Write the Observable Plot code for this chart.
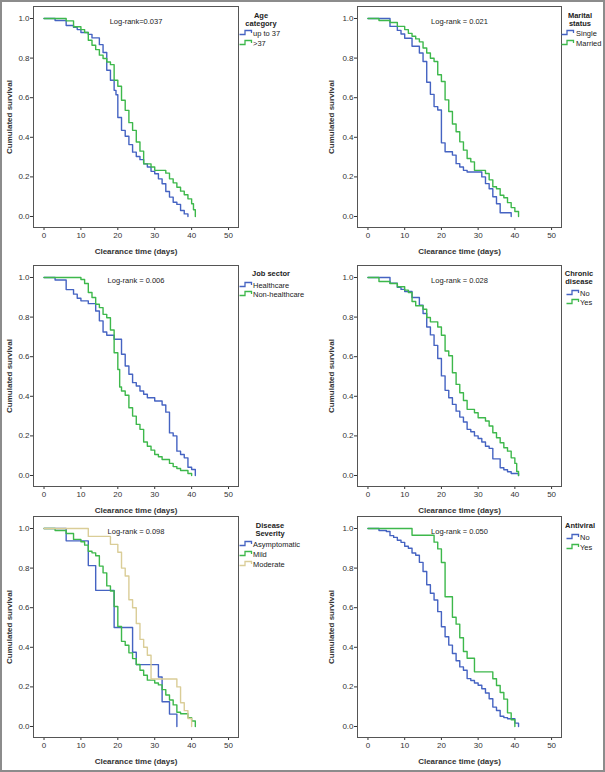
<!DOCTYPE html>
<html>
<head>
<meta charset="utf-8">
<script src="https://cdn.jsdelivr.net/npm/d3@7"></script>
<script src="https://cdn.jsdelivr.net/npm/@observablehq/plot@0.6"></script>
<style>
  html, body { margin: 0; padding: 0; background: #fff; }
  #page { position: relative; width: 605px; height: 772px; overflow: hidden; background: #fff;
          font-family: "Liberation Sans", Arial, sans-serif; color: #222; }
  #border { position: absolute; left: 0; top: 0; width: 605px; height: 772px; box-sizing: border-box;
            border: 2px solid #8c8c8c; pointer-events: none; }
  .col { position: absolute; top: 0; height: 772px; }
  .col svg { position: absolute; left: 0; overflow: visible; }
  .lg { position: absolute; font-size: 7.5px; line-height: 9px; white-space: nowrap; color: #222; }
  .lgt { font-weight: bold; transform: translateX(-50%); text-align: center; }
  .sw { position: absolute; }
  [aria-label="x-axis label"], [aria-label="y-axis label"] { font-weight: bold; }
</style>
</head>
<body>
<div id="page"><div id="colL" class="col" style="left:0;width:300px"></div><div id="colR" class="col" style="left:300px;width:305px"></div><div id="border"></div></div>
<script>
// ---------- axis ticks & labels ----------
const xTicks = [0, 10, 20, 30, 40, 50];
const yTicks = [0, 0.2, 0.4, 0.6, 0.8, 1.0];
const xLabel = "Clearance time (days)";
const yLabel = "Cumulated survival";

// ---------- Panel 1: Age category ----------
const ageTitle = ["Age", "category"];
const ageLogrank = "Log-rank=0.037";
const ageNames = ["up to 37", ">37"];
const ageUpDays = [0,3,6,8,9,10,12,13,15,16,17,18,19,19.5,20,21,22,23,24,25,26,27,28,29,30,31,32,33,34,35,36,37,38,39];
const ageUpSurv = [1,0.99,0.965,0.955,0.944,0.929,0.92,0.902,0.868,0.828,0.739,0.688,0.637,0.615,0.5,0.435,0.405,0.363,0.325,0.303,0.287,0.266,0.25,0.228,0.216,0.19,0.165,0.126,0.098,0.072,0.061,0.03,0.013,0];
const ageOverDays = [0,6,8,10,11,12,13,14,15,16,17,18,19,20,21,22,23,24,25,26,27,29,30,33,34,35,36,37,38,39,40,40.5,41];
const ageOverSurv = [1,0.988,0.958,0.944,0.929,0.89,0.865,0.843,0.815,0.798,0.78,0.767,0.688,0.658,0.587,0.536,0.474,0.435,0.376,0.33,0.266,0.25,0.233,0.219,0.19,0.17,0.148,0.128,0.11,0.089,0.064,0.034,0];

// ---------- Panel 2: Marital status ----------
const marTitle = ["Marital", "status"];
const marLogrank = "Log-rank = 0.021";
const marNames = ["Single", "Married"];
const marSingleDays = [0,6,8,9,10,12,14,15,16,17,18,19,20,21,23,24,25,26,27,31,32,33,34,35,36,39];
const marSingleSurv = [1,0.96,0.94,0.922,0.9,0.86,0.826,0.783,0.678,0.617,0.555,0.538,0.372,0.327,0.31,0.267,0.25,0.233,0.225,0.2,0.166,0.14,0.1,0.064,0.019,0];
const marMarriedDays = [0,3,6,8,10,11,12,13,14,15,16,17,18,19,20,21,22,23,24,25,26,27,28,29,32,33,34,35,36,37,38,39,40,41];
const marMarriedSurv = [1,0.99,0.98,0.96,0.944,0.925,0.91,0.897,0.882,0.851,0.826,0.799,0.783,0.716,0.682,0.589,0.53,0.467,0.428,0.377,0.335,0.293,0.276,0.233,0.217,0.185,0.15,0.14,0.107,0.095,0.07,0.045,0.025,0];

// ---------- Panel 3: Job sector ----------
const jobTitle = ["Job sector"];
const jobLogrank = "Log-rank = 0.006";
const jobNames = ["Healthcare", "Non-healthcare"];
const jobHcDays = [0,3,6,8,9,10,12,14,15,16,17,19,21,22,23,24,25,26,27,28,30,32,33,34,35,36,37,38,39,40,41];
const jobHcSurv = [1,0.987,0.939,0.916,0.895,0.882,0.868,0.831,0.781,0.725,0.708,0.688,0.612,0.553,0.511,0.469,0.452,0.427,0.41,0.393,0.376,0.356,0.32,0.215,0.2,0.123,0.106,0.089,0.042,0.03,0];
const jobNonDays = [0,10,11,12,13,14,15,16,17,18,19,20,20.5,21,22,23,24,25,26,27,28,29,30,31,32,34,35,36,37,39,40];
const jobNonSurv = [1,0.99,0.97,0.924,0.899,0.865,0.848,0.814,0.797,0.735,0.62,0.535,0.447,0.427,0.405,0.342,0.3,0.258,0.233,0.169,0.148,0.128,0.106,0.095,0.081,0.061,0.045,0.035,0.025,0.01,0];

// ---------- Panel 4: Chronic disease ----------
const chrTitle = ["Chronic", "disease"];
const chrLogrank = "Log-rank = 0.028";
const chrNames = ["No", "Yes"];
const chrNoDays = [0,6,8,9,10,12,14,15,16,17,18,19,20,21,22,23,24,25,26,27,28,29,30,31,32,33,34,36,37,38,39,41];
const chrNoSurv = [1,0.971,0.95,0.94,0.929,0.899,0.86,0.818,0.75,0.71,0.657,0.591,0.503,0.43,0.393,0.359,0.325,0.295,0.27,0.233,0.221,0.2,0.187,0.169,0.148,0.137,0.084,0.039,0.029,0.019,0.01,0];
const chrYesDays = [0,3,6,8,10,11,12,13,15,16,17,19,20,21,22,23,24,25,26,27,29,30,32,33,34,35,36,37,38,39,40,40.5,41];
const chrYesSurv = [1,0.98,0.97,0.953,0.936,0.924,0.879,0.857,0.84,0.798,0.776,0.75,0.708,0.629,0.605,0.519,0.46,0.418,0.379,0.334,0.317,0.292,0.275,0.25,0.216,0.191,0.165,0.14,0.123,0.089,0.061,0.02,0];

// ---------- Panel 5: Disease severity ----------
const sevTitle = ["Disease", "Severity"];
const sevLogrank = "Log-rank = 0.098";
const sevNames = ["Asymptomatic", "Mild", "Moderate"];
const sevAsymDays = [0,6,12,14,19,24,25,31,32,34,36];
const sevAsymSurv = [1,0.9375,0.8125,0.6875,0.5,0.375,0.3125,0.25,0.125,0.0625,0];
const sevMildDays = [0,3,6,8,10,11,12,13,14,15,16,17,18,19,20,21,22,23,24,25,26,27,28,30,31,32,33,34,35,36,37,39,40,41];
const sevMildSurv = [1,0.99,0.975,0.945,0.933,0.916,0.885,0.877,0.862,0.81,0.776,0.71,0.684,0.606,0.505,0.43,0.41,0.372,0.343,0.313,0.284,0.259,0.234,0.22,0.21,0.186,0.159,0.134,0.109,0.072,0.064,0.045,0.028,0];
const sevModDays = [0,12,18,20,21,22,23,24,25,26,27,28,29,36,37,38,39,40];
const sevModSurv = [1,0.96,0.92,0.88,0.8,0.76,0.64,0.6,0.52,0.44,0.4,0.36,0.24,0.2,0.12,0.08,0.04,0];

// ---------- Panel 6: Antiviral ----------
const antTitle = ["Antiviral"];
const antLogrank = "Log-rank = 0.050";
const antNames = ["No", "Yes"];
const antNoDays = [0,3,5,6,7,8,9,10,11,12,13,14,15,16,17,18,19,20,21,22,23,24,25,26,27,28,29,30,31,32,33,34,35,36,37,38,40,41];
const antNoSurv = [1,0.99,0.985,0.964,0.955,0.941,0.93,0.91,0.9,0.876,0.865,0.829,0.783,0.716,0.673,0.639,0.58,0.504,0.453,0.411,0.369,0.332,0.301,0.284,0.242,0.232,0.22,0.208,0.191,0.169,0.14,0.098,0.081,0.052,0.045,0.039,0.017,0];
const antYesDays = [0,12,18,19,20,21,23,24,25,26,27,29,34,35,36,37,38,39,40];
const antYesSurv = [1,0.966,0.931,0.897,0.828,0.655,0.552,0.517,0.448,0.379,0.345,0.276,0.241,0.207,0.172,0.138,0.069,0.034,0];

// ---------- colours ----------
const BLUE = "#4563c2", GREEN = "#3db84b", TAN = "#dacd97";

const panels = [
  {col: "L", row: 0, title: ageTitle, logrank: ageLogrank, names: ageNames, colors: [BLUE, GREEN],
   series: [[ageUpDays, ageUpSurv], [ageOverDays, ageOverSurv]],
   lg: {cx: 261, sw: 239, tx: 253, ty: [15, 23], ey: [33, 43]}},
  {col: "R", row: 0, title: marTitle, logrank: marLogrank, names: marNames, colors: [BLUE, GREEN],
   series: [[marSingleDays, marSingleSurv], [marMarriedDays, marMarriedSurv]],
   lg: {cx: 580, sw: 561, tx: 576, ty: [15, 23], ey: [33, 43]}},
  {col: "L", row: 1, title: jobTitle, logrank: jobLogrank, names: jobNames, colors: [BLUE, GREEN],
   series: [[jobHcDays, jobHcSurv], [jobNonDays, jobNonSurv]],
   lg: {cx: 271, sw: 239, tx: 253, ty: [273], ey: [285, 294]}},
  {col: "R", row: 1, title: chrTitle, logrank: chrLogrank, names: chrNames, colors: [BLUE, GREEN],
   series: [[chrNoDays, chrNoSurv], [chrYesDays, chrYesSurv]],
   lg: {cx: 579, sw: 566, tx: 580, ty: [273, 281], ey: [293, 302]}},
  {col: "L", row: 2, title: sevTitle, logrank: sevLogrank, names: sevNames, colors: [BLUE, GREEN, TAN],
   series: [[sevAsymDays, sevAsymSurv], [sevMildDays, sevMildSurv], [sevModDays, sevModSurv]],
   lg: {cx: 270, sw: 239, tx: 253, ty: [525, 533], ey: [544, 554, 564]}},
  {col: "R", row: 2, title: antTitle, logrank: antLogrank, names: antNames, colors: [BLUE, GREEN],
   series: [[antNoDays, antNoSurv], [antYesDays, antYesSurv]],
   lg: {cx: 580, sw: 566, tx: 580, ty: [525], ey: [537, 547]}}
];

const rowTops = [0, 259, 510];
const colGeom = {
  L: {width: 300, marginLeft: 33, marginRight: 62, yLabelOffset: 27, xOff: 0, el: "colL"},
  R: {width: 305, marginLeft: 57, marginRight: 44, yLabelOffset: 29, xOff: 300, el: "colR"}
};

for (const p of panels) {
  const g = colGeom[p.col];
  const data = [];
  p.series.forEach(([T, S], i) => T.forEach((t, j) => data.push({t, s: S[j], g: p.names[i]})));
  const chart = Plot.plot({
    width: g.width,
    height: 258,
    marginTop: 6,
    marginBottom: 31,
    marginLeft: g.marginLeft,
    marginRight: g.marginRight,
    style: {fontFamily: '"Liberation Sans", Arial, sans-serif', fontSize: "8px", color: "#333", background: "transparent"},
    x: {domain: [-2.85, 52.7]},
    y: {domain: [-0.0556, 1.0606]},
    color: {domain: p.names, range: p.colors},
    marks: [
      Plot.axisX({ticks: xTicks, tickSize: 3, tickPadding: 2, label: xLabel, labelAnchor: "center",
                  labelOffset: 26, labelArrow: "none", fontSize: 8}),
      Plot.axisY({ticks: yTicks, tickFormat: d3.format(".1f"), tickSize: 3, tickPadding: 1, label: yLabel,
                  labelAnchor: "center", labelOffset: g.yLabelOffset, labelArrow: "none", fontSize: 8}),
      Plot.line(data, {x: "t", y: "s", z: "g", stroke: "g", strokeWidth: 1.4, curve: "step-after"}),
      Plot.text([p.logrank], {frameAnchor: "top", dy: 12, text: d => d, fontSize: 7.5, fill: "#222"}),
      Plot.frame({stroke: "#555", strokeWidth: 1})
    ]
  });
  chart.style.top = rowTops[p.row] + "px";
  const col = document.getElementById(g.el);
  col.appendChild(chart);

  // legend (HTML, outside the plot frame)
  const lg = p.lg;
  p.title.forEach((line, i) => {
    const d = document.createElement("div");
    d.className = "lg lgt";
    d.textContent = line;
    d.style.left = (lg.cx - g.xOff) + "px";
    d.style.top = (lg.ty[i] - 4.5) + "px";
    col.appendChild(d);
  });
  p.names.forEach((name, i) => {
    const y = lg.ey[i];
    const sw = document.createElementNS("http://www.w3.org/2000/svg", "svg");
    sw.setAttribute("width", 14); sw.setAttribute("height", 7);
    sw.setAttribute("class", "sw");
    sw.style.left = (lg.sw - g.xOff) + "px";
    sw.style.top = (y - 4) + "px";
    const path = document.createElementNS("http://www.w3.org/2000/svg", "path");
    path.setAttribute("d", "M0.5,5.5H6V1.5H12.5V4");
    path.setAttribute("fill", "none");
    path.setAttribute("stroke", p.colors[i]);
    path.setAttribute("stroke-width", "1.3");
    sw.appendChild(path);
    col.appendChild(sw);
    const t = document.createElement("div");
    t.className = "lg";
    t.textContent = name;
    t.style.left = (lg.tx - g.xOff) + "px";
    t.style.top = (y - 4.5) + "px";
    col.appendChild(t);
  });
}
</script>
</body>
</html>
